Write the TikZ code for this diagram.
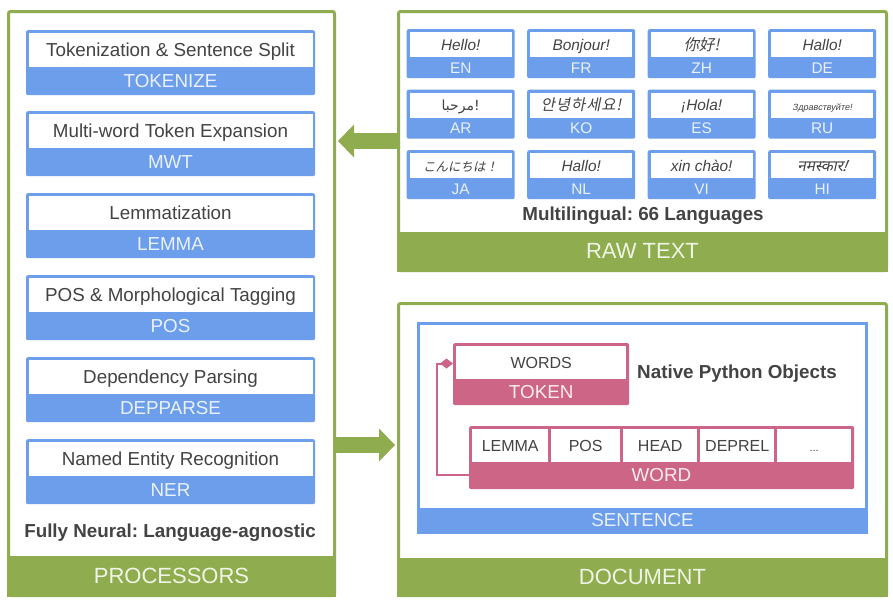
\documentclass[tikz,border=0pt]{standalone}
\usepackage{fontspec}
\setmainfont{Liberation Sans}
\newfontfamily\zhfont{Noto Sans CJK SC}[FakeSlant=0.2]
\newfontfamily\jafont{Noto Sans CJK JP}[FakeSlant=0.2]
\newfontfamily\kofont{Noto Sans CJK KR}[FakeSlant=0.2, LetterSpace=6]
\newfontfamily\arfont[Script=Arabic]{DejaVu Sans}
\newfontfamily\hifont[Script=Devanagari,FakeSlant=0.2]{Noto Sans}
\newfontfamily\rufont{Liberation Sans}[FakeSlant=0.2]
\TeXXeTstate=1
\usetikzlibrary{arrows.meta}

\definecolor{panelgreen}{HTML}{8FAD4F}
\definecolor{boxblue}{HTML}{6D9EEB}
\definecolor{tokpink}{HTML}{CC6586}
\definecolor{inkgray}{HTML}{434343}
\definecolor{bluewhite}{HTML}{EAF1FC}
\definecolor{pinkwhite}{HTML}{FAECF1}
\definecolor{greenwhite}{HTML}{F0F4E6}

\newcommand\bigsize{\fontsize{22}{26}\selectfont}
\newcommand\midsize{\fontsize{18.8}{22}\selectfont}
\newcommand\cellsize{\fontsize{16}{19}\selectfont}
\newcommand\langsize{\fontsize{15.4}{18}\selectfont}

\tikzset{
  panel/.style={draw=panelgreen, line width=3pt, rounded corners=2pt, fill=white, inner sep=0pt},
  foot/.style={text=greenwhite, font=\bigsize, inner sep=0pt},
  bluebox/.style={fill=boxblue, rounded corners=2pt, inner sep=0pt},
  pinkbox/.style={fill=tokpink, rounded corners=1.5pt, inner sep=0pt},
  cell/.style={fill=white, inner sep=0pt, text=inkgray, text depth=0pt},
  bluetag/.style={text=bluewhite, inner sep=0pt},
  pinktag/.style={text=pinkwhite, inner sep=0pt},
  note/.style={text=inkgray, font=\midsize\bfseries, inner sep=0pt, text height=13.5pt, text depth=0pt},
  bigarrow/.style={draw=panelgreen, line width=16pt, shorten >=2pt,
    -{Triangle[length=16pt, width=33pt, line width=0pt]}},
  link/.style={draw=tokpink, line width=2pt,
    -{Diamond[length=13pt, width=10pt, line width=0pt]}}
}
\frenchspacing

\begin{document}
\begin{tikzpicture}[x=1pt, y=-1pt]
  \fill[white] (0,0) rectangle (893,606);
  \useasboundingbox (0,0) rectangle (893,606);

  % the three panels
  \node[panel, minimum width=326pt, minimum height=584pt] (proc) at (171.5,303.5) {};
  \fill[panelgreen] (proc.south west) rectangle ([yshift=41.5pt]proc.south east);
  \node[foot] (proc-foot) at (171.5,576) {PROCESSORS};

  \node[panel, minimum width=488pt, minimum height=259pt] (raw) at (642.5,141) {};
  \fill[panelgreen] (raw.south west) rectangle ([yshift=40.5pt]raw.south east);
  \node[foot] (raw-foot) at (642.5,251) {RAW TEXT};

  \node[panel, minimum width=488pt, minimum height=292pt] (doc) at (642.5,449.5) {};
  \fill[panelgreen] (doc.south west) rectangle ([yshift=39.5pt]doc.south east);
  \node[foot] (doc-foot) at (642.5,577) {DOCUMENT};

  \draw[bigarrow] (raw.west) -- (proc.east |- raw.west);
  \draw[bigarrow] (proc.east |- 0,445) -- (doc.west |- 0,445);

  % processors
  \foreach \ytop/\pname/\ptitle/\pcode in {
      30/tokenize/Tokenization \& Sentence Split/TOKENIZE,
      111/mwt/Multi-word Token Expansion/MWT,
      193/lemma/Lemmatization/LEMMA,
      275/pos/POS \& Morphological Tagging/POS,
      357/depparse/Dependency Parsing/DEPPARSE,
      439/ner/Named Entity Recognition/NER}{
    \node[bluebox, minimum width=289pt, minimum height=65pt, anchor=north] (\pname) at (170.5,\ytop) {};
    \node[cell, minimum width=284pt, minimum height=34pt, text height=13.5pt, anchor=north, font=\midsize]
      (\pname-title) at ([yshift=-3pt]\pname.north) {\ptitle};
    \node[bluetag, font=\midsize] (\pname-code) at ([yshift=14pt]\pname.south) {\pcode};
  }
  \node[note] (neural) at (170,531) {Fully Neural: Language-agnostic};

  % languages
  \foreach \lx/\ly/\lname/\lgreet in {
      406.5/29/EN/Hello!, 527/29/FR/Bonjour!, 647.5/29/ZH/{\zhfont 你好!}, 768/29/DE/Hallo!,
      406.5/89.5/AR/{\upshape\arfont\fontsize{14}{16}\selectfont\beginR مرحبا\endR!}, 527/89.5/KO/{\kofont 안녕하세요!},
      647.5/89.5/ES/¡Hola!, 768/89.5/RU/{\upshape\rufont\fontsize{9}{11}\selectfont Здравствуйте!},
      406.5/150/JA/{\jafont\fontsize{12.5}{15}\selectfont こんにちは！}, 527/150/NL/Hallo!,
      647.5/150/VI/xin chào!, 768/150/HI/{\hifont नमस्कार!}}{
    \node[bluebox, minimum width=108pt, minimum height=49pt, anchor=north west] (lang-\lname) at (\lx,\ly) {};
    \node[cell, minimum width=102pt, minimum height=25pt, text height=11pt, anchor=north, font=\langsize\itshape]
      (greet-\lname) at ([yshift=-3pt]lang-\lname.north) {\lgreet};
    \node[bluetag, font=\langsize] (code-\lname) at ([yshift=10.5pt]lang-\lname.south) {\lname};
  }
  \node[note] (multi) at (643,213.5) {Multilingual: 66 Languages};

  % document objects
  \node[draw=boxblue, line width=3pt, minimum width=448pt, minimum height=209pt, inner sep=0pt]
    (sentence) at (642.5,428) {};
  \fill[boxblue] (sentence.south west) rectangle ([yshift=26.5pt]sentence.south east);
  \node[bluetag, font=\midsize] (sentence-tag) at (642.5,520) {SENTENCE};

  \node[pinkbox, minimum width=176pt, minimum height=62pt, anchor=north west] (token) at (453,343) {};
  \node[cell, minimum width=170pt, minimum height=33pt, text height=11.5pt, anchor=north, font=\cellsize]
    (token-words) at ([yshift=-3pt]token.north) {WORDS};
  \node[pinktag, font=\midsize] (token-tag) at ([yshift=13pt]token.south) {TOKEN};
  \node[note] (python) at (737,371.5) {Native Python Objects};

  \node[pinkbox, minimum width=385pt, minimum height=63pt, anchor=north west] (word) at (469,426) {};
  \foreach \cx/\cw/\ctext [count=\ci] in {472/76pt/LEMMA, 551/69pt/POS, 623/74pt/HEAD,
      700/74pt/DEPREL, 777/74pt/{\fontsize{11}{13}\selectfont ...}}
    \node[cell, minimum width=\cw, minimum height=33pt, text height=11.5pt, anchor=north west, font=\cellsize]
      (field-\ci) at (\cx,429) {\ctext};
  \node[pinktag, font=\midsize] (word-tag) at (661.5,475) {WORD};

  \coordinate (bend) at (437,363.5);
  \draw[link] (word.west |- word-tag) -| (bend) -- (token.west |- bend);
\end{tikzpicture}
\end{document}
